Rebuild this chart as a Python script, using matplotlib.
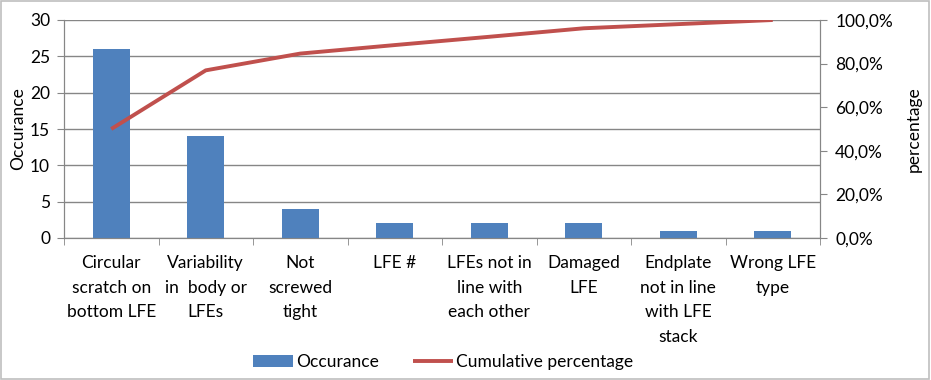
"""Pareto chart of LFE defects.
"""
import matplotlib.pyplot as plt
from matplotlib.ticker import FuncFormatter, FixedLocator
from matplotlib.patches import Rectangle

categories = ['Circular\nscratch on\nbottom LFE', 'Variability\nin  body or\nLFEs',
              'Not\nscrewed\ntight', 'LFE #', 'LFEs not in\nline with\neach other',
              'Damaged\nLFE', 'Endplate\nnot in line\nwith LFE\nstack', 'Wrong LFE\ntype']
occurance = [26, 14, 4, 2, 2, 2, 1, 1]
cumulative = [50.0, 76.9, 84.6, 88.5, 92.3, 96.2, 98.1, 100.0]

bar_color = '#4F81BD'
line_color = '#C0504D'
grid_color = '#868686'

plt.rcParams['font.family'] = ['Lato', 'DejaVu Sans']
plt.rcParams['font.size'] = 12.5

fig = plt.figure(figsize=(9.31, 3.80), dpi=100)
ax = fig.add_axes([64 / 931, 1 - 238 / 380, 756 / 931, 218 / 380])
ax2 = ax.twinx()

x = list(range(len(categories)))
bars = ax.bar(x, occurance, width=0.39, color=bar_color, label='Occurance', zorder=3)
line, = ax2.plot(x, cumulative, color=line_color, lw=2.8, label='Cumulative percentage',
                 solid_capstyle='butt', zorder=4)

ax.set_xlim(-0.5, len(categories) - 0.5)
ax.set_ylim(0, 30)
ax.set_yticks(range(0, 31, 5))
ax2.set_ylim(0, 100)
ax2.set_yticks(range(0, 101, 20))
ax2.yaxis.set_major_formatter(FuncFormatter(lambda v, p: ('%.1f%%' % v).replace('.', ',')))

# horizontal grid
ax.grid(axis='y', color=grid_color, lw=1, zorder=0)
ax.set_axisbelow(True)

# category ticks between the bars
ax.set_xticks(x)
ax.set_xticklabels(categories, linespacing=1.68)
ax.tick_params(axis='x', length=0, pad=12)
ax.xaxis.set_minor_locator(FixedLocator([i - 0.5 for i in range(len(categories) + 1)]))
ax.tick_params(axis='x', which='minor', length=5, color=grid_color, direction='out')
for label in ax.get_xticklabels():
    label.set_verticalalignment('top')

ax.tick_params(axis='y', length=5, color=grid_color, pad=5)
ax2.tick_params(axis='y', length=5, color=grid_color, pad=6)

for a in (ax, ax2):
    a.spines['top'].set_visible(False)
    for s in ('left', 'right', 'bottom'):
        a.spines[s].set_color(grid_color)

ax.set_ylabel('Occurance', labelpad=3)
ax2.set_ylabel('percentage', labelpad=9)

fig.legend([bars, line], ['Occurance', 'Cumulative percentage'], loc='center',
           bbox_to_anchor=(443 / 931, 1 - 362 / 380), ncol=2, frameon=False,
           handlelength=2.3, handletextpad=0.15, columnspacing=2.0)

fig.patches.append(Rectangle((0.001, 0.002), 0.997, 0.995, transform=fig.transFigure,
                             fill=False, edgecolor='#BFBFBF', lw=1.2))

fig.savefig('out.png', dpi=100)
